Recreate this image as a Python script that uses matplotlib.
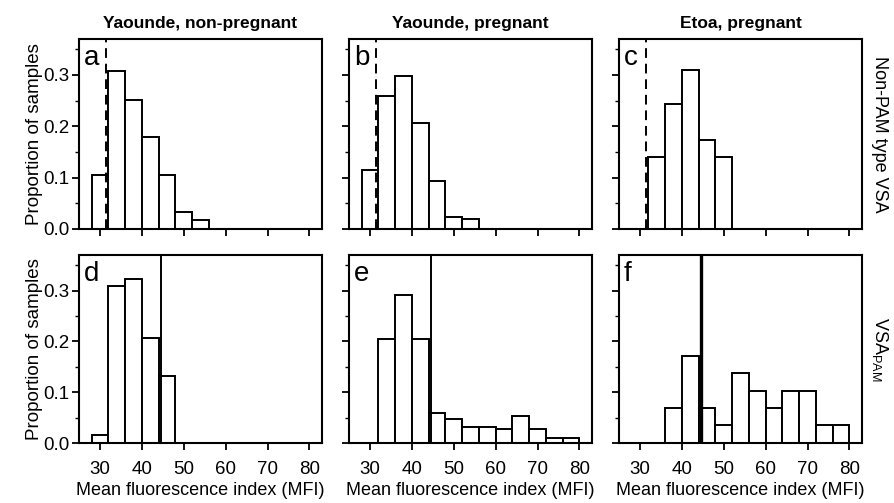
import numpy as np
import matplotlib
matplotlib.use("Agg")
import matplotlib.pyplot as plt
from matplotlib.ticker import MultipleLocator

plt.rcParams['font.family'] = ['Liberation Sans', 'DejaVu Sans']

# bin edges: 4 MFI units wide starting at 28
bin_left = [28, 32, 36, 40, 44, 48, 52, 56, 60, 64, 68, 72, 76]

col_titles = ["Yaounde, non-pregnant", "Yaounde, pregnant", "Etoa, pregnant"]
row_labels = ["Non-PAM type VSA", "VSA$_{\\mathregular{PAM}}$"]
panel_letters = ["a", "b", "c", "d", "e", "f"]
x_ticks = [30, 40, 50, 60, 70, 80]
y_ticks = [0.0, 0.1, 0.2, 0.3]
y_ticklabels = ["0.0", "0.1", "0.2", "0.3"]

# proportions per bin (0 = empty bin)
a_vals = [0.105, 0.308, 0.251, 0.179, 0.105, 0.033, 0.017, 0, 0, 0, 0, 0, 0]
b_vals = [0.115, 0.259, 0.297, 0.206, 0.093, 0.024, 0.019, 0, 0, 0, 0, 0, 0]
c_vals = [0, 0.140, 0.243, 0.310, 0.173, 0.140, 0, 0, 0, 0, 0, 0, 0]
d_vals = [0.015, 0.309, 0.323, 0.206, 0.132, 0, 0, 0, 0, 0, 0, 0, 0]
e_vals = [0, 0.205, 0.291, 0.205, 0.059, 0.048, 0.032, 0.032, 0.027, 0.053, 0.027, 0.009, 0.009]
f_vals = [0, 0, 0.069, 0.172, 0.069, 0.036, 0.138, 0.103, 0.069, 0.103, 0.103, 0.036, 0.036]
all_vals = [a_vals, b_vals, c_vals, d_vals, e_vals, f_vals]

# cut-off lines
cutoff_top = 31.5
cutoff_bottom = 44.5

fig = plt.figure(figsize=(8.94, 5.03), dpi=100)
W, H = 894.0, 503.0
col_x = [79, 349, 619]
col_w = 243
row_y = [(39, 229), (255, 443)]

for i in range(6):
    r, c = divmod(i, 3)
    top, bot = row_y[r]
    ax = fig.add_axes([col_x[c] / W, 1 - bot / H, col_w / W, (bot - top) / H])
    vals = all_vals[i]
    lefts = [x for x, v in zip(bin_left, vals) if v > 0]
    heights = [v for v in vals if v > 0]
    ax.bar(lefts, heights, width=4, align='edge', facecolor='white',
           edgecolor='black', linewidth=1.4, zorder=2)
    if r == 0:
        ax.axvline(cutoff_top, color='black', linestyle=(0, (5, 3)), linewidth=1.4, zorder=3)
    else:
        lw = 2.4 if c == 2 else 1.4
        ax.axvline(cutoff_bottom, color='black', linewidth=lw, zorder=3)

    ax.set_xlim(25, 83)
    ax.set_ylim(0, 0.37)
    ax.set_xticks(x_ticks)
    ax.set_yticks(y_ticks)
    ax.yaxis.set_minor_locator(MultipleLocator(0.05))
    ax.tick_params(axis='both', which='major', direction='out', length=5, width=1.3,
                   labelsize=13.5)
    ax.tick_params(axis='x', which='major', pad=8)
    ax.tick_params(axis='y', which='major', pad=2)
    ax.tick_params(axis='y', which='minor', direction='out', length=3, width=1.0)
    for s in ax.spines.values():
        s.set_linewidth(1.5)

    if c == 0:
        ax.set_ylabel("Proportion of samples", fontsize=13.5, labelpad=0)
        ax.set_yticklabels(y_ticklabels)
    else:
        ax.set_yticklabels([])
    if r == 1:
        ax.set_xlabel("Mean fluorescence index (MFI)", fontsize=13, labelpad=3)
        ax.set_xticklabels([str(t) for t in x_ticks])
    else:
        ax.set_xticklabels([])
        ax.set_title(col_titles[c], fontsize=12.5, fontweight='bold', pad=8)
    if c == 2:
        ax.text(1.074, 0.5, row_labels[r], transform=ax.transAxes, rotation=-90,
                ha='center', va='center', fontsize=13)

    ax.text(0.02, 0.97, panel_letters[i], transform=ax.transAxes, ha='left', va='top',
            fontsize=20, zorder=4)

fig.savefig("out.png", dpi=100)
